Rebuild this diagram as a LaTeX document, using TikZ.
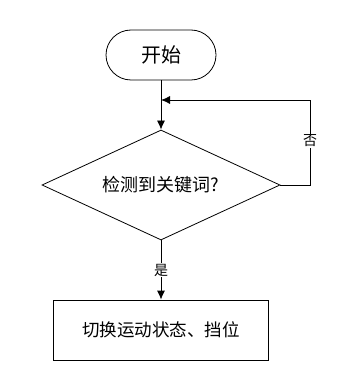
\documentclass[tikz,border=0pt]{standalone}
\usepackage{fontspec}
\setmainfont{Noto Sans CJK SC}
\usetikzlibrary{positioning, arrows.meta, shapes.geometric}

\begin{document}
\begin{tikzpicture}[
    x = 1pt, y = -1pt,
    every node/.style = {font = \fontsize{17.5}{20}\selectfont},
    terminal/.style   = {draw, line width = 0.8pt, rounded corners = 25pt, minimum width = 110pt, minimum height = 50pt, inner sep = 0pt},
    decision/.style   = {draw, line width = 0.8pt, diamond, aspect = 2.164, minimum width = 238pt, minimum height = 110pt, inner sep = 0pt},
    process/.style    = {draw, line width = 0.8pt, minimum width = 215pt, minimum height = 60pt, inner sep = 0pt},
    branch/.style     = {fill = white, inner sep = 1pt, font = \fontsize{14}{16}\selectfont},
    arr/.style        = {-{Latex[length=9pt, width=8pt]}, line width = 0.8pt},
]

% ---------- fixed canvas, (x, y) in px from top left ----------
\useasboundingbox (0,0) rectangle (339,390);

\node[terminal] (start)  at (161, 55)  {\fontsize{20}{22}\selectfont 开始};
\node[decision] (check)  at (161,185)  {\fontsize{18}{20}\selectfont 检测到关键词?};
\node[process]  (switch) at (161,330)  {切换运动状态、挡位};

\coordinate (join)   at (161,100);
\coordinate (corner) at (310,185);

% ---------- main flow ----------
\draw[arr] (start) -- (check);
\draw[arr] (check) -- (switch) node[branch, pos=0.5] {是};

% ---------- loop back when nothing found ----------
\draw[arr] (check.east) -- (corner) |- (join) node[branch, pos=0.26] {否};

\end{tikzpicture}
\end{document}
